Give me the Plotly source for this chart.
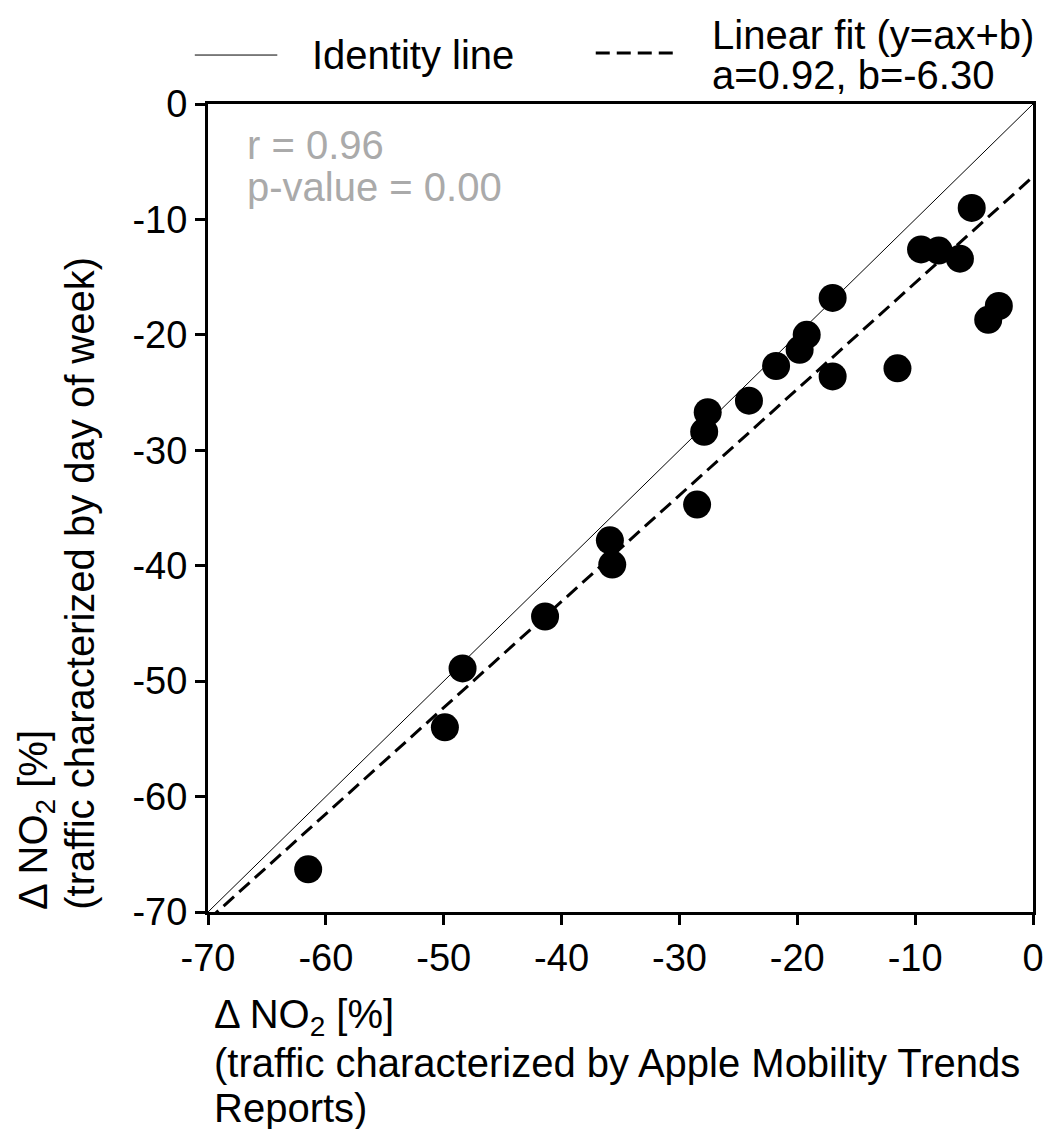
import plotly.graph_objects as go

# Change in NO2 [%] for each site under the two traffic characterizations
apple_mobility = [-61.5, -49.9, -48.4, -41.4, -35.9, -35.7, -28.5, -27.9, -27.6, -24.1,
                  -21.8, -19.8, -19.2, -17.0, -17.0, -11.5, -9.5, -8.0, -6.2, -5.2,
                  -2.9, -3.8]
day_of_week = [-66.3, -54.0, -48.9, -44.4, -37.8, -39.9, -34.7, -28.4, -26.7, -25.7,
               -22.7, -21.3, -20.0, -16.8, -23.6, -22.9, -12.6, -12.7, -13.4, -9.0,
               -17.5, -18.7]

# Linear fit parameters and correlation statistics
fit_a = 0.92
fit_b = -6.30
r_value = 0.96
p_value = 0.00

axis_range = [-70, 0]
tick_vals = [-70, -60, -50, -40, -30, -20, -10, 0]
tick_text = ["-70", "-60", "-50", "-40", "-30", "-20", "-10", "0"]

FONT = "Liberation Sans, Arial, sans-serif"
FS = 40
TICK_FS = 38
DASH = "14px,7px"

fit_x = list(axis_range)
fit_y = [fit_a * v + fit_b for v in fit_x]

fig = go.Figure()

fig.add_trace(go.Scatter(
    x=axis_range, y=axis_range, mode="lines",
    line=dict(color="black", width=1), name="Identity line",
    showlegend=False,
))
fig.add_trace(go.Scatter(
    x=fit_x, y=fit_y, mode="lines",
    line=dict(color="black", width=3, dash=DASH),
    name="Linear fit", showlegend=False,
))
fig.add_trace(go.Scatter(
    x=apple_mobility, y=day_of_week, mode="markers",
    marker=dict(color="black", size=28, line=dict(width=0)),
    showlegend=False, cliponaxis=False,
))

axis_common = dict(
    range=axis_range, tickmode="array", tickvals=tick_vals, ticktext=tick_text,
    showgrid=False, zeroline=False, showline=True, linecolor="black", linewidth=3,
    mirror=True, ticks="outside", ticklen=10, tickwidth=2.5, tickcolor="black",
    tickfont=dict(family=FONT, size=TICK_FS, color="black"),
)
fig.update_xaxes(**axis_common)
fig.update_yaxes(**axis_common)


def text_line(text, x, y, color="black", xanchor="left", angle=0, yanchor="middle"):
    fig.add_annotation(xref="paper", yref="paper", x=x, y=y, xanchor=xanchor,
                       yanchor=yanchor, textangle=angle, showarrow=False, text=text,
                       font=dict(family=FONT, size=FS, color=color))


# Legend drawn above the axes box
fig.add_shape(type="line", xref="paper", yref="paper", x0=-0.016, x1=0.084,
              y0=1.0606, y1=1.0606, line=dict(color="black", width=1))
fig.add_shape(type="line", xref="paper", yref="paper", x0=0.470, x1=0.569,
              y0=1.0631, y1=1.0631, line=dict(color="black", width=3, dash=DASH))
text_line("Identity line", 0.124, 1.0606)
text_line("Linear fit (y=ax+b)", 0.609, 1.0854)
text_line(f"a={fit_a:.2f}, b={fit_b:.2f}", 0.609, 1.0359)

# Correlation statistics inside the axes
text_line(f"r = {r_value:.2f}", 0.0446, 0.9493, color="#aaaaaa")
text_line(f"p-value = {p_value:.2f}", 0.0446, 0.8973, color="#aaaaaa")

# x-axis title, left-aligned under the axis
text_line("Δ NO<sub>2</sub> [%]", 0.005, -0.1300)
text_line("(traffic characterized by Apple Mobility Trends", 0.005, -0.1869)
text_line("Reports)", 0.005, -0.2426)

# y-axis title, rotated and aligned to the bottom of the axis
text_line("Δ NO<sub>2</sub> [%]", -0.2084, 0.0, xanchor="center", angle=-90, yanchor="bottom")
text_line("(traffic characterized by day of week)", -0.1560, 0.0, xanchor="center",
          angle=-90, yanchor="bottom")

fig.update_layout(
    width=1054, height=1129,
    margin=dict(l=208, r=10, t=104, b=217, pad=0),
    plot_bgcolor="white", paper_bgcolor="white",
    font=dict(family=FONT, size=FS, color="black"),
    showlegend=False,
)

fig.write_html("out.html")
